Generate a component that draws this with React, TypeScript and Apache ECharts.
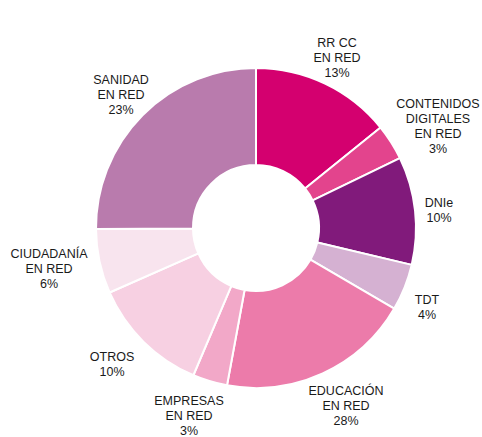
import React, { useEffect, useRef } from "react";
import * as echarts from "echarts";

// Categories (clockwise from 12 o'clock)
const categories = [
  "RR CC\nEN RED",
  "CONTENIDOS\nDIGITALES\nEN RED",
  "DNIe",
  "TDT",
  "EDUCACIÓN\nEN RED",
  "EMPRESAS\nEN RED",
  "OTROS",
  "CIUDADANÍA\nEN RED",
  "SANIDAD\nEN RED",
];

// Slice sizes as drawn in the picture (share of the ring, %)
const sliceValues = [14.2, 3.6, 10.9, 4.7, 19.5, 3.5, 12.0, 6.5, 25.1];

// Percentages printed on the labels
const labelPercents = [13, 3, 10, 4, 28, 3, 10, 6, 23];

const colors = [
  "#D4006F",
  "#E3448D",
  "#811A7B",
  "#D5B1D2",
  "#EC7BAA",
  "#F2A8C8",
  "#F7D0E2",
  "#F8E4EE",
  "#B97BAD",
];

// Label centre positions (layout)
const labelX = [337, 438, 439, 427, 346, 189, 112, 49, 121];
const labelY = [58, 126, 210, 307, 406, 416, 364, 269, 95];

export default function App() {
  const ref = useRef<HTMLDivElement>(null);
  useEffect(() => {
    if (!ref.current) return;
    const chart = echarts.init(ref.current, undefined, { renderer: "svg" });
    chart.setOption({
      animation: false,
      backgroundColor: "#ffffff",
      series: [
        {
          type: "pie",
          center: [256, 228],
          radius: [63, 160],
          startAngle: 90,
          clockwise: true,
          avoidLabelOverlap: false,
          itemStyle: { borderColor: "#ffffff", borderWidth: 2 },
          label: {
            show: true,
            position: "outside",
            color: "#1a1a1a",
            fontFamily: "'Liberation Sans', Arial, Helvetica, sans-serif",
            fontSize: 12.5,
            lineHeight: 15,
            align: "center",
            formatter: (p: any) =>
              `${categories[p.dataIndex]}\n${labelPercents[p.dataIndex]}%`,
          },
          labelLine: { show: false },
          labelLayout: (p: any) => ({
            x: labelX[p.dataIndex],
            y: labelY[p.dataIndex],
            align: "center",
            verticalAlign: "middle",
          }),
          emphasis: { disabled: true },
          data: categories.map((name, i) => ({
            name,
            value: sliceValues[i],
            itemStyle: { color: colors[i] },
          })),
        },
      ],
    });
    return () => chart.dispose();
  }, []);
  return (
    <div
      ref={ref}
      style={{ position: "absolute", left: 0, top: 0, width: 482, height: 437 }}
    />
  );
}
